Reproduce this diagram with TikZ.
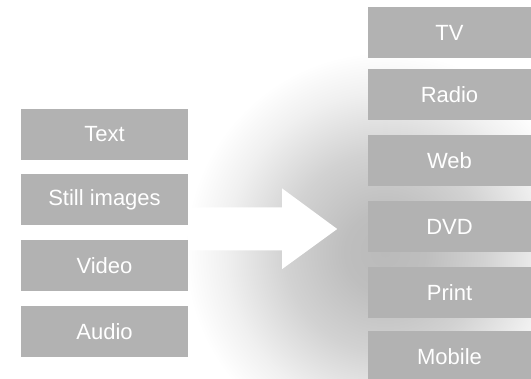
\documentclass[tikz,border=0pt]{standalone}
\usepackage{fontspec}
\usetikzlibrary{calc}
\setmainfont{Liberation Sans}
\definecolor{boxgray}{RGB}{178,178,178}
\definecolor{glowA}{RGB}{186,186,186}
\definecolor{glowB}{RGB}{190,190,190}
\definecolor{glowC}{RGB}{210,210,210}
\definecolor{glowD}{RGB}{240,240,240}
% radial glow: the path's rim sits at 25bp
\pgfdeclareradialshading{glow}{\pgfpoint{0bp}{0bp}}{%
  color(0bp)=(glowA); color(5bp)=(glowB); color(12.5bp)=(glowC);
  color(20bp)=(glowD); color(25bp)=(white); color(50bp)=(white)}
\tikzset{
  media/.style={fill=boxgray, draw=none, text=white, inner sep=0pt,
    font=\fontsize{22}{26}\selectfont, minimum height=51},
  source/.style={media, minimum width=167},
  outlet/.style={media, minimum width=163},
}
\begin{document}
\begin{tikzpicture}[x=1pt, y=-1pt]
  \useasboundingbox (0,0) rectangle (531,379);
  \clip (0,0) rectangle (531,379);
  \fill[white] (0,0) rectangle (531,379);
  % soft grey glow behind the arrow
  \shade[shading=glow] (385,252) circle[radius=200];

  % source media
  \node[source] (text)  at (104.5,134.5) {Text};
  \node[source] (still) at (104.5,200)   {Still images};
  \node[source] (video) at (104.5,266)   {Video};
  \node[source] (audio) at (104.5,332)   {Audio};

  % output channels
  \node[outlet] (tv)     at (449.5,33)    {TV};
  \node[outlet] (radio)  at (449.5,95)    {Radio};
  \node[outlet] (web)    at (449.5,160.5) {Web};
  \node[outlet] (dvd)    at (449.5,226.5) {DVD};
  \node[outlet] (print)  at (449.5,292.5) {Print};
  \node[outlet] (mobile) at (449.5,356.5) {Mobile};

  % big white block arrow from the sources towards the channels
  \coordinate (tail) at ($(still.east)!0.5!(video.east)+(0,-4)$);
  \fill[white] ($(tail)+(0,-21.5)$) -- ++(94,0) -- ++(0,-19)
    -- ($(tail)+(149,0)$) -- ($(tail)+(94,40)$) -- ++(0,-18.5)
    -- ($(tail)+(0,21.5)$) -- cycle;
\end{tikzpicture}
\end{document}
